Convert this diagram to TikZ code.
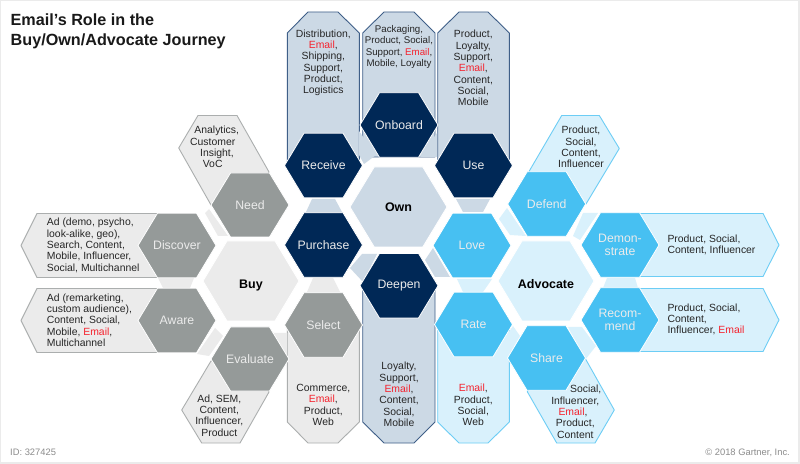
\documentclass[tikz,border=0pt]{standalone}
\usepackage{fontspec}
\setmainfont{Liberation Sans}
\definecolor{gh}{HTML}{959A99}
\definecolor{gp}{HTML}{EBEBEB}
\definecolor{gs}{HTML}{ABAEAE}
\definecolor{nh}{HTML}{002856}
\definecolor{np}{HTML}{CCD9E5}
\definecolor{ns}{HTML}{3F5F88}
\definecolor{bh}{HTML}{47C0F2}
\definecolor{bp}{HTML}{D9F1FC}
\definecolor{bs}{HTML}{6CCDF5}
\definecolor{mailred}{HTML}{F5222D}
\newcommand{\mail}{\textcolor{mailred}{Email}}
\newcommand{\rs}[2]{\mbox{\kern#1bp #2}}
\newcommand{\ls}[2]{\mbox{#2\kern#1bp}}
% name, cx, cy, hw, hh, fill, text colour + font style, label
\newcommand{\hexa}[8]{%
  \path[hexline,fill=#6] ({#2-#4},#3) -- ({#2-#4/2},{#3-#5}) -- ({#2+#4/2},{#3-#5}) -- ({#2+#4},#3) -- ({#2+#4/2},{#3+#5}) -- ({#2-#4/2},{#3+#5}) -- cycle;
  \node[#7] (#1) at (#2,#3) {#8};}
\tikzset{
  hexline/.style={draw=white,line width=0.8pt},
  grayp/.style={draw=gs,fill=gp,line width=0.9pt,line join=round},
  navyp/.style={draw=ns,fill=np,line width=0.9pt,line join=round},
  bluep/.style={draw=bs,fill=bp,line width=0.9pt,line join=round},
  hexlabel/.style={text=white!92!black,align=center,inner sep=0pt,font=\fontsize{12.3pt}{13pt}\selectfont},
  corelabel/.style={text=black,inner sep=0pt,font=\fontsize{12.5pt}{14pt}\selectfont\bfseries},
  paneltext/.style={text=black!85,align=center,inner sep=0pt,font=\fontsize{10.45pt}{11.37pt}\selectfont},
  paneltextl/.style={text=black!85,align=left,inner sep=0pt,font=\fontsize{10.45pt}{11.37pt}\selectfont},
  foot/.style={text=black!45,inner sep=0pt,font=\fontsize{9.4pt}{11pt}\selectfont},
  heading/.style={text=black!90,align=left,inner sep=0pt,font=\fontsize{16.25pt}{19.8pt}\selectfont\bfseries},
}
\begin{document}
\begin{tikzpicture}[x=1bp,y=-1bp]
\useasboundingbox (0,0) rectangle (800,464);
\fill[gp] (0,0) rectangle (800,464);
\fill[white] (1.5,1.5) rectangle (798,461.5);

% vertical panels
\path[navyp] (287.3,165) -- (287.3,33) -- (308,12) -- (338,12) -- (359.3,33) -- (359.3,165) -- cycle;
\path[navyp] (362.7,157) -- (362.7,33) -- (384,12) -- (414,12) -- (435,33) -- (435,157) -- cycle;
\path[navyp] (437.7,165) -- (437.7,33) -- (459,12) -- (488,12) -- (509.3,33) -- (509.3,165) -- cycle;
\path[grayp] (287.3,325) -- (287.3,422) -- (308,443) -- (338,443) -- (359.3,422) -- (359.3,325) -- cycle;
\path[navyp] (362.7,285) -- (362.7,422) -- (384,443) -- (414,443) -- (435,422) -- (435,285) -- cycle;
\path[bluep] (437.7,325) -- (437.7,422) -- (459,443) -- (488,443) -- (509.3,422) -- (509.3,325) -- cycle;

% horizontal panels
\path[grayp] (177,213.5) -- (37,213.5) -- (21,245.5) -- (37,277.5) -- (177,277.5) -- cycle;
\path[grayp] (177,288.5) -- (37,288.5) -- (21,320.5) -- (37,352.5) -- (177,352.5) -- cycle;
\path[bluep] (620,213.5) -- (763,213.5) -- (779,245) -- (763,276.5) -- (620,276.5) -- cycle;
\path[bluep] (620,288.5) -- (763,288.5) -- (779,320) -- (763,351.5) -- (620,351.5) -- cycle;

% diagonal panels
\path[grayp] (250,205) -- (211,205) -- (178.7,148) -- (198,115.5) -- (237,115.5) -- (269,172) -- cycle;
\path[grayp] (250,359) -- (211,361) -- (181.7,410) -- (201.7,443) -- (240,443) -- (269,392) -- cycle;
\path[bluep] (546.7,204) -- (529.3,171) -- (561.7,115.5) -- (599.3,115.5) -- (619.3,148.5) -- (586,204) -- cycle;
\path[bluep] (546.5,358) -- (527.3,391.7) -- (556.7,443) -- (595,443) -- (614.3,410) -- (585,358) -- cycle;

% joining pieces
\fill[gp] (209,209) -- (205,213) -- (218,236) -- (228,236) -- cycle;
\fill[gp] (158,278) -- (194,278) -- (190,288) -- (163,288) -- cycle;
\fill[gp] (215,328) -- (223,336) -- (209,356) -- (197,354) -- cycle;
\fill[gp] (273,333) -- (287.3,333) -- (287.3,358) -- cycle;
\fill[gp] (313,278) -- (333,278) -- (340,292) -- (307,292) -- cycle;
\fill[np] (312,199) -- (335,199) -- (342,212) -- (306,212) -- cycle;
\fill[np] (456,199) -- (490,199) -- (483,212) -- (463,212) -- cycle;
\fill[np] (359,131) -- (376,155) -- (364,164) -- (359,155) -- cycle;
\fill[np] (437,133) -- (420,157) -- (437,157) -- cycle;
\fill[np] (350,268) -- (362,254) -- (377,254) -- (363,282) -- cycle;
\fill[np] (433,248) -- (450,277) -- (435,277) -- (425,260) -- cycle;
\fill[bp] (457,279) -- (492,279) -- (483,292) -- (463,292) -- cycle;
\fill[bp] (507,208) -- (526,236) -- (510,235) -- (499,219) -- cycle;
\fill[bp] (583,213) -- (598,213) -- (580,240) -- (573,236) -- cycle;
\fill[bp] (607,278) -- (635,278) -- (638,288) -- (603,288) -- cycle;
\fill[bp] (568,327) -- (582,327) -- (596,346) -- (585,360) -- cycle;
\fill[bp] (508,333) -- (513,326) -- (520,336) -- (508,357) -- cycle;

% hexagons
\hexa{buy}{251}{281}{48}{40}{gp}{corelabel,yshift=-4.5pt}{Buy}
\hexa{own}{398.5}{207}{48.5}{40}{np}{corelabel}{Own}
\hexa{advocate}{546}{281}{48}{40}{bp}{corelabel,yshift=-3pt}{Advocate}

\hexa{need}{250}{205}{39}{32}{gh}{hexlabel}{Need}
\hexa{discover}{177}{245.5}{39}{32.3}{gh}{hexlabel}{Discover}
\hexa{aware}{177}{320.5}{39}{32.3}{gh}{hexlabel}{Aware}
\hexa{evaluate}{250}{359}{39}{32}{gh}{hexlabel}{Evaluate}
\hexa{select}{323.5}{325}{39}{32.3}{gh}{hexlabel}{Select}

\hexa{receive}{323.5}{165.5}{39}{32.3}{nh}{hexlabel}{Receive}
\hexa{purchase}{323.5}{245}{39}{32.3}{nh}{hexlabel}{Purchase}
\hexa{onboard}{399}{125}{39}{32.3}{nh}{hexlabel}{Onboard}
\hexa{deepen}{399}{285.7}{39}{32.3}{nh}{hexlabel}{Deepen}
\hexa{use}{473.5}{165.5}{39}{32.3}{nh}{hexlabel}{Use}

\hexa{love}{472}{245.5}{39}{32.3}{bh}{hexlabel}{Love}
\hexa{rate}{473.5}{324.5}{39}{32.3}{bh}{hexlabel}{Rate}
\hexa{defend}{546.7}{204}{39}{32.3}{bh}{hexlabel}{Defend}
\hexa{share}{546.5}{358}{39}{32.3}{bh}{hexlabel}{Share}
\hexa{demonstrate}{620}{245}{39}{32.3}{bh}{hexlabel}{Demon-\\strate}
\hexa{recommend}{620}{320}{39}{32.3}{bh}{hexlabel}{Recom-\\mend}

% panel texts
\node[paneltext] (t1) at (323.3,62.7) {Distribution,\\\mail,\\Shipping,\\Support,\\Product,\\Logistics};
\node[paneltext,font=\fontsize{9.75pt}{11.37pt}\selectfont] (t2) at (399,47) {Packaging,\\Product, Social,\\Support, \mail,\\Mobile, Loyalty};
\node[paneltext] (t3) at (473.3,68) {Product,\\Loyalty,\\Support,\\\mail,\\Content,\\Social,\\Mobile};
\node[paneltext] (t4) at (323.3,405) {Commerce,\\\mail,\\Product,\\Web};
\node[paneltext] (t5) at (399,394.5) {Loyalty,\\Support,\\\mail,\\Content,\\Social,\\Mobile};
\node[paneltext] (t6) at (473.3,405) {\mail,\\Product,\\Social,\\Web};
\node[paneltext] (t7) at (214.7,147) {\rs{4}{Analytics,}\\\ls{4}{Customer}\\\rs{4.6}{Insight,}\\\ls{4}{VoC}};
\node[paneltextl,anchor=west] (t8) at (46.7,245.3) {Ad (demo, psycho,\\look-alike, geo),\\Search, Content,\\Mobile, Influencer,\\Social, Multichannel};
\node[paneltextl,anchor=west] (t9) at (46.7,320) {Ad (remarketing,\\custom audience),\\Content, Social,\\Mobile, \mail,\\Multichannel};
\node[paneltext] (t10) at (219.3,415.5) {Ad, SEM,\\Content,\\Influencer,\\Product};
\node[paneltext] (t11) at (581,147) {Product,\\Social,\\Content,\\Influencer};
\node[paneltextl,anchor=west] (t12) at (667.3,244.6) {Product, Social,\\Content, Influencer};
\node[paneltextl,anchor=west] (t13) at (667.3,319.5) {Product, Social,\\Content,\\Influencer, \mail};
\node[paneltext] (t14) at (575.3,411.7) {\rs{20.8}{Social,}\\Influencer,\\\ls{4.6}{\mail,}\\Product,\\Content};

% title and footers
\node[heading,anchor=north west] (title) at (10.5,14) {Email’s Role in the\\Buy/Own/Advocate Journey};
\node[foot,anchor=west] (id) at (10,452.7) {ID: 327425};
\node[foot,anchor=east] (copy) at (790,452.7) {© 2018 Gartner, Inc.};
\end{tikzpicture}
\end{document}
